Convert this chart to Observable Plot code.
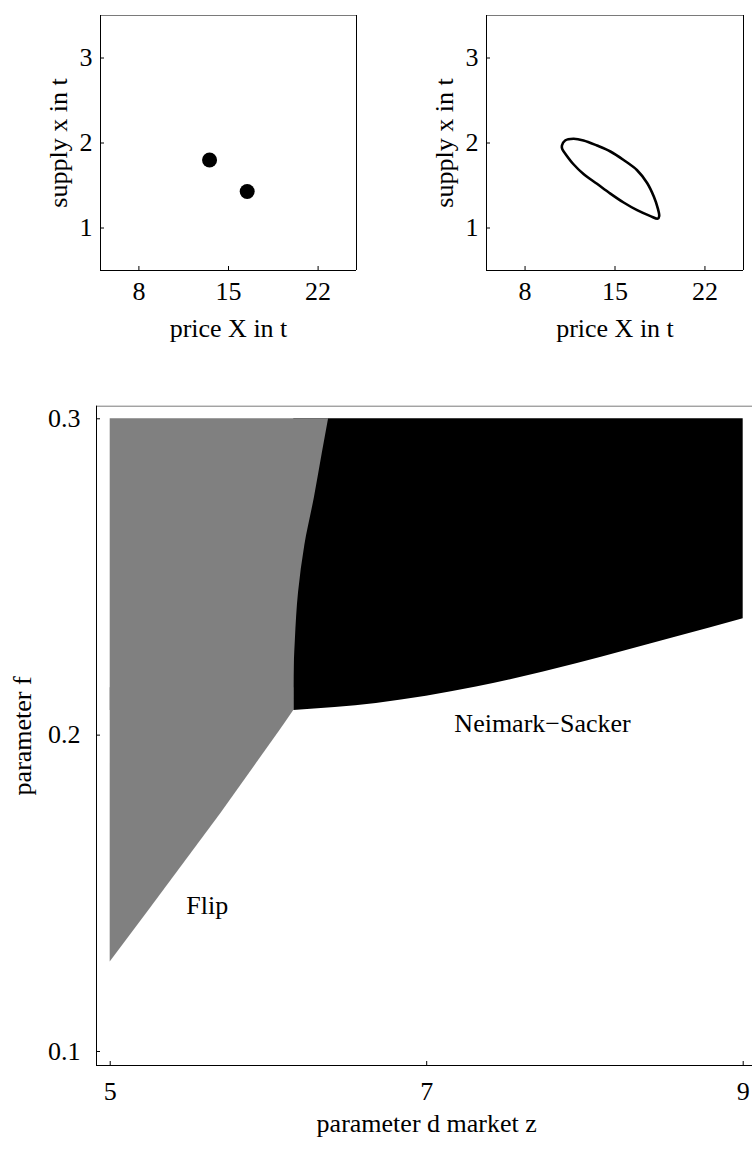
<!DOCTYPE html>
<html><head><meta charset="utf-8">
<script src="https://cdn.jsdelivr.net/npm/d3@7"></script>
<script src="https://cdn.jsdelivr.net/npm/@observablehq/plot@0.6"></script>
<style>
html,body{margin:0;padding:0;background:#fff;}
#wrap{position:relative;width:752px;height:1149px;overflow:hidden;background:#fff;}
#wrap svg{position:absolute;}
</style></head><body><div id="wrap"></div>
<script>
// ---- phase plots (top) ----
const cycle2Price = [13.52, 16.46];
const cycle2Supply = [1.80, 1.43];
const cyclePrice = [10.87, 11.12, 11.77, 12.55, 13.6, 14.64, 15.67, 16.72, 17.5, 18.02, 18.33, 18.44, 18.33, 17.76, 16.72, 15.67, 14.64, 13.6, 12.55, 11.77, 11.2, 10.89];
const cycleSupply = [1.97, 2.03, 2.05, 2.03, 1.97, 1.90, 1.80, 1.68, 1.53, 1.37, 1.23, 1.14, 1.11, 1.14, 1.21, 1.30, 1.405, 1.52, 1.635, 1.75, 1.86, 1.93];
const phaseXTicks = [8, 15, 22];
const phaseYTicks = [1, 2, 3];
const phaseXDomain = [5, 25];
const phaseYDomain = [0.5, 3.5];
const phaseXLabel = "price X in t";
const phaseYLabel = "supply x in t";

// ---- bifurcation diagram (bottom) ----
// flip boundary (straight part, lower)
const flipLineF = [0.1283, 0.1446, 0.1751, 0.2017, 0.2078, 0.215];
const flipLineD = [5.0, 5.244, 5.697, 6.076, 6.16, 6.16];
// flip / Neimark-Sacker boundary (upper)
const flipEdgeF = [0.2078, 0.215, 0.23, 0.245, 0.26, 0.275, 0.289, 0.3];
const flipEdgeD = [6.16, 6.16, 6.17, 6.19, 6.23, 6.29, 6.34, 6.38];
// Neimark-Sacker lower boundary
const nsEdgeD = [6.16, 6.682, 7.314, 7.946, 8.577, 9.0];
const nsEdgeF = [0.2078, 0.21, 0.2152, 0.2226, 0.231, 0.2368];
const dMin = 5, fMax = 0.3;
const paramXTicks = [5, 7, 9];
const paramYTicks = [0.1, 0.2, 0.3];
const paramXDomain = [4.9134, 9.0588];
const paramYDomain = [0.09557, 0.30398];
const paramXLabel = "parameter d market z";
const paramYLabel = "parameter f";
const regionNames = ["Flip", "Neimark−Sacker"];
const regionD = [5.613, 7.732];
const regionF = [0.1435, 0.2009];

const FONT = '"Liberation Serif","Times New Roman",Times,serif';
const FS = 26;
const fmt = d => String(d);

function panel(o) {
  const {width, height, mt, mr, mb, ml, xDomain, yDomain, xTicks, yTicks, xLabel, yLabel,
         marks, xPad, yPad, xLabelDy, yLabelDx, rightEdge, xLabelAt} = o;
  const pw = width - ml - mr, ph = height - mt - mb;
  const tx = 4 * (xDomain[1] - xDomain[0]) / pw;
  const ty = 4 * (yDomain[1] - yDomain[0]) / ph;
  const frame = [
    Plot.ruleY([yDomain[1]], {stroke: "#7a7a7a"}),
    Plot.ruleY([yDomain[0]], {stroke: "#000"}),
    Plot.ruleX([xDomain[0]], {stroke: "#000"})
  ];
  if (rightEdge) frame.push(Plot.ruleX([xDomain[1]], {stroke: "#000"}));
  return Plot.plot({
    width, height, marginTop: mt, marginRight: mr, marginBottom: mb, marginLeft: ml,
    style: {fontFamily: FONT, fontSize: FS + "px", background: "transparent", color: "#000", overflow: "visible"},
    x: {domain: xDomain},
    y: {domain: yDomain},
    marks: [
      ...marks,
      Plot.ruleX(xTicks, {x: d => d, y1: yDomain[0], y2: yDomain[0] + ty, stroke: "#000"}),
      Plot.ruleY(yTicks, {y: d => d, x1: xDomain[0], x2: xDomain[0] + tx, stroke: "#000"}),
      Plot.axisX(xTicks, {tickSize: 0, tickPadding: xPad, tickFormat: fmt, fontSize: FS, fontFamily: FONT, label: null}),
      Plot.axisY(yTicks, {tickSize: 0, tickPadding: yPad, tickFormat: fmt, fontSize: FS, fontFamily: FONT, label: null}),
      ...frame,
      Plot.text([xLabel], {text: d => d, x: xLabelAt, frameAnchor: "bottom", textAnchor: "middle", lineAnchor: "bottom", dy: xLabelDy, fontSize: FS, fontFamily: FONT, fill: "#000"}),
      Plot.text([yLabel], {text: d => d, frameAnchor: "left", textAnchor: "middle", lineAnchor: "bottom", rotate: -90, dx: yLabelDx, fontSize: FS, fontFamily: FONT, fill: "#000"})
    ]
  });
}

const wrap = document.getElementById("wrap");

// top-left: 2-cycle
const dots = cycle2Price.map((p, i) => ({p, s: cycle2Supply[i]}));
const svg1 = panel({
  width: 376, height: 350, mt: 15, mr: 20, mb: 80, ml: 100,
  xDomain: phaseXDomain, yDomain: phaseYDomain, xTicks: phaseXTicks, yTicks: phaseYTicks,
  xLabel: phaseXLabel, yLabel: phaseYLabel, xPad: 11.5, yPad: 8, xLabelDy: 66.7, yLabelDx: -33.3, rightEdge: true,
  marks: [Plot.dot(dots, {x: "p", y: "s", r: 7.5, fill: "#000", stroke: null})]
});
svg1.style.left = "0px"; svg1.style.top = "0px";
wrap.appendChild(svg1);

// top-right: invariant closed curve
const loop = cyclePrice.map((p, i) => ({p, s: cycleSupply[i]}));
const svg2 = panel({
  width: 376, height: 350, mt: 15, mr: 9, mb: 80, ml: 110,
  xDomain: phaseXDomain, yDomain: phaseYDomain, xTicks: phaseXTicks, yTicks: phaseYTicks,
  xLabel: phaseXLabel, yLabel: phaseYLabel, xPad: 11.5, yPad: 8, xLabelDy: 66.7, yLabelDx: -33.3, rightEdge: true,
  marks: [Plot.line(loop, {x: "p", y: "s", curve: "catmull-rom-closed", stroke: "#000", strokeWidth: 2.6})]
});
svg2.style.left = "376px"; svg2.style.top = "0px";
wrap.appendChild(svg2);

// bottom: parameter plane
const flipLineTable = flipLineF.map((f, i) => ({f, d: flipLineD[i]}));
const flipEdgeTable = flipEdgeF.map((f, i) => ({f, d: flipEdgeD[i]}));
const nsTable = nsEdgeD.map((d, i) => ({d, f: nsEdgeF[i]}));
const labelTable = regionNames.map((name, i) => ({name, d: regionD[i], f: regionF[i]}));
const svg3 = panel({
  width: 752, height: 799, mt: 55.7, mr: 0, mb: 84, ml: 96,
  xDomain: paramXDomain, yDomain: paramYDomain, xTicks: paramXTicks, yTicks: paramYTicks,
  xLabel: paramXLabel, yLabel: paramYLabel, xPad: 16.5, yPad: 16, xLabelDy: 66.7, yLabelDx: -65.5, rightEdge: false,
  xLabelAt: 7,
  marks: [
    Plot.areaY(nsTable, {x: "d", y1: "f", y2: fMax, fill: "#000", curve: "monotone-x"}),
    Plot.areaX(flipEdgeTable, {y: "f", x1: dMin, x2: "d", fill: "#808080", curve: "monotone-y"}),
    Plot.areaX(flipLineTable, {y: "f", x1: dMin, x2: "d", fill: "#808080", curve: "linear"}),
    Plot.text(labelTable, {x: "d", y: "f", text: "name", lineAnchor: "bottom", textAnchor: "middle", fontSize: FS, fontFamily: FONT, fill: "#000"})
  ]
});
svg3.style.left = "0px"; svg3.style.top = "350px";
wrap.appendChild(svg3);
</script>
</body></html>
